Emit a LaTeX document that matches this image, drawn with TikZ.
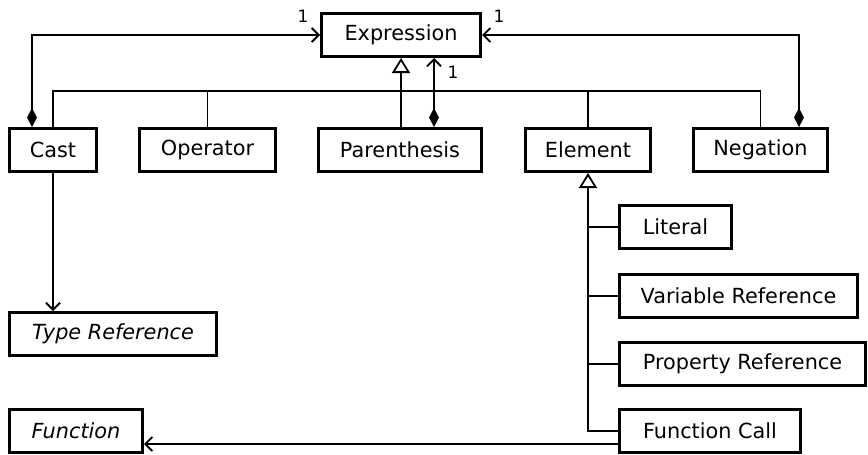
\documentclass[tikz,border=0pt]{standalone}
\usepackage{fontspec}
\setmainfont{DejaVu Sans}
\usetikzlibrary{arrows.meta}
\begin{document}
\begin{tikzpicture}[x=1pt,y=-1pt,
  cls/.style={draw,line width=3pt,rectangle,minimum height=43pt,inner sep=0pt,
    font=\fontsize{20.8pt}{24pt}\selectfont},
  conn/.style={line width=1.8pt},
  gen/.style={conn,-{Triangle[open,width=18pt,length=15pt,line width=1.8pt]}},
  nav/.style={conn,-{Straight Barb[width=14pt,length=7pt,line width=1.8pt]}},
  comp/.style={conn,{Diamond[width=10pt,length=19pt]}-{Straight Barb[width=14pt,length=7pt,line width=1.8pt]}},
  mult/.style={font=\fontsize{17pt}{19pt}\selectfont,inner sep=0pt}]
\useasboundingbox (0,0) rectangle (868,455);

% classes
\node[cls,minimum width=159pt] (expr) at (401,35) {Expression};
\node[cls,minimum width=87pt]  (cast) at (53,150) {Cast};
\node[cls,minimum width=136pt] (oper) at (207.5,150) {Operator};
\node[cls,minimum width=163pt] (paren) at (400,150) {Parenthesis};
\node[cls,minimum width=125pt] (elem) at (588,150) {Element};
\node[cls,minimum width=134pt] (neg) at (760.5,150) {Negation};
\node[cls,minimum width=207pt] (tref) at (113,334) {\itshape Type Reference};
\node[cls,minimum width=133pt] (func) at (76,431) {\itshape Function};
\node[cls,minimum width=112pt] (lit) at (675.5,227) {Literal};
\node[cls,minimum width=238pt] (vref) at (738.5,296) {Variable Reference};
\node[cls,minimum width=246pt] (pref) at (742.5,364) {Property Reference};
\node[cls,minimum width=181pt] (fcall) at (710,431) {Function Call};

% generalisation towards Expression
\coordinate (hub) at (401,91);
\draw[gen] (expr.south |- paren.north) -- (expr.south);
\draw[conn] (cast.north) |- (hub);
\draw[conn] (oper.north) |- (hub);
\draw[conn] (elem.north) |- (hub);
\draw[conn] (neg.north) |- (hub);

% compositions
\draw[comp] ([xshift=-21pt]cast.north) |- (expr.west);
\draw[comp] ([xshift=38.5pt]neg.north) |- (expr.east);
\draw[comp] ([xshift=34pt]paren.north) -- ([xshift=33pt]expr.south);
\node[mult] (m1) at (303,16) {1};
\node[mult] (m2) at (499,16) {1};
\node[mult] (m3) at (453,72) {1};

% Cast to Type Reference
\draw[nav] (cast.south) -- (cast.south |- tref.north);

% generalisation towards Element
\draw[gen] (fcall.west) -| (elem.south);
\draw[conn] (lit.west) -- (lit.west -| elem.south);
\draw[conn] (vref.west) -- (vref.west -| elem.south);
\draw[conn] (pref.west) -- (pref.west -| elem.south);

% Function Call to Function
\draw[nav] ([yshift=-13pt]fcall.west) -- ([yshift=-13pt]fcall.west -| func.east);
\end{tikzpicture}
\end{document}
